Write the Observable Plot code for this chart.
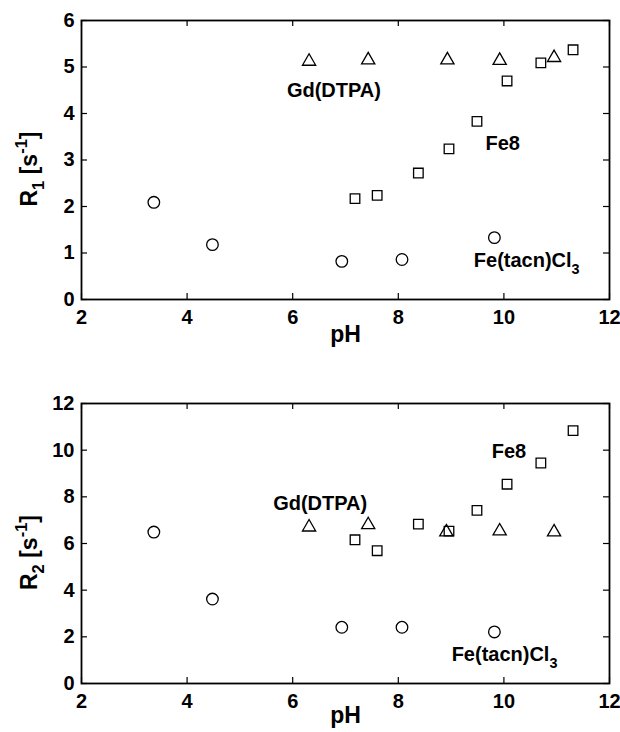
<!DOCTYPE html>
<html><head><meta charset="utf-8">
<script src="https://cdn.jsdelivr.net/npm/d3@7"></script>
<script src="https://cdn.jsdelivr.net/npm/@observablehq/plot@0.6"></script>
<style>body{margin:0;background:#fff} svg{display:block}</style>
</head><body><div id="chart"></div>
<script>
// Fe(tacn)Cl3 (circles)
const pH_circle = [3.37, 4.48, 6.93, 8.07, 9.82];
const R1_circle = [2.09, 1.18, 0.82, 0.86, 1.33];
const R2_circle = [6.49, 3.62, 2.41, 2.41, 2.21];
// Fe8 (squares)
const pH_square = [7.18, 7.60, 8.38, 8.96, 9.49, 10.06, 10.70, 11.31];
const R1_square = [2.17, 2.24, 2.72, 3.24, 3.83, 4.70, 5.09, 5.37];
const R2_square = [6.16, 5.69, 6.83, 6.53, 7.42, 8.54, 9.45, 10.84];
// Gd(DTPA) (triangles)
const pH_triangle_R1 = [6.31, 7.43, 8.93, 9.92, 10.95];
const R1_triangle = [5.12, 5.15, 5.15, 5.14, 5.20];
const pH_triangle_R2 = [6.31, 7.43, 8.91, 9.92, 10.95];
const R2_triangle = [6.70, 6.80, 6.49, 6.53, 6.49];
// ticks
const xTicks = [2, 4, 6, 8, 10, 12];
const yTicks1 = [0, 1, 2, 3, 4, 5, 6];
const yTicks2 = [0, 2, 4, 6, 8, 10, 12];
// annotations
const labelNames = ["Gd(DTPA)", "Fe8", "Fe(tacn)Cl_{3}"];
const label1X = [5.89, 9.65, 9.43];
const label1Y = [4.49, 3.35, 0.83];
const label2X = [5.63, 9.77, 9.01];
const label2Y = [7.72, 9.92, 1.23];
const xLabel = "pH";
const yLabel1 = "R_{1} [s^{-1}]";
const yLabel2 = "R_{2} [s^{-1}]";

const FONT = "'Liberation Sans', Arial, Helvetica, sans-serif";

function pts(xs, ys) { return xs.map((x, i) => ({x, y: ys[i]})); }

function richify(svg) {
  svg.querySelectorAll("text").forEach(t => {
    const s = t.textContent;
    if (!/[_^]\{/.test(s)) return;
    const fs = parseFloat(getComputedStyle(t).fontSize) || 20;
    const anchor = getComputedStyle(t).textAnchor;
    const parts = s.split(/([_^]\{[^}]*\})/).filter(p => p !== "");
    t.textContent = "";
    let shift = 0;
    for (const p of parts) {
      const ts = document.createElementNS("http://www.w3.org/2000/svg", "tspan");
      const m = p.match(/^([_^])\{([^}]*)\}$/);
      let target = 0;
      if (m) {
        target = m[1] === "_" ? 0.32 * fs : -0.45 * fs;
        ts.setAttribute("font-size", (0.72 * fs) + "px");
        ts.textContent = m[2];
      } else {
        ts.textContent = p;
      }
      if (target !== shift) { ts.setAttribute("dy", target - shift); shift = target; }
      t.appendChild(ts);
    }
    if (anchor === "middle") {
      const len = t.getComputedTextLength();
      const x0 = parseFloat(t.getAttribute("x")) || 0;
      t.setAttribute("text-anchor", "start");
      t.style.textAnchor = "start";
      t.setAttribute("x", x0 - len / 2);
    }
  });
}

function panel({height, marginTop, marginBottom, yDomain, yTicks, circles, squares, triangles, lx, ly, ylab, xlabDy}) {
  const W = 620, mL = 81, mR = 11;
  const H = height - marginTop - marginBottom;
  const tl = 6;
  return Plot.plot({
    width: W, height, marginTop, marginBottom, marginLeft: mL, marginRight: mR,
    style: {fontFamily: FONT, fontSize: "20px", fontWeight: "bold", color: "#000", background: "#fff", overflow: "visible"},
    x: {domain: [2, 12]},
    y: {domain: yDomain},
    marks: [
      Plot.axisX(xTicks, {tickSize: 0, tickPadding: 10, label: null, fontSize: 20, fontWeight: "bold"}),
      Plot.axisY(yTicks, {tickSize: 0, tickPadding: 7, label: null, fontSize: 20, fontWeight: "bold"}),
      Plot.tickX(xTicks, {x: d => d, insetTop: H - tl, stroke: "#000", strokeWidth: 1.2}),
      Plot.tickX(xTicks, {x: d => d, insetBottom: H - tl, stroke: "#000", strokeWidth: 1.2}),
      Plot.tickY(yTicks, {y: d => d, insetRight: W - mL - mR - tl, stroke: "#000", strokeWidth: 1.2}),
      Plot.tickY(yTicks, {y: d => d, insetLeft: W - mL - mR - tl, stroke: "#000", strokeWidth: 1.2}),
      Plot.frame({stroke: "#000", strokeWidth: 1.8}),
      Plot.dot(circles, {x: "x", y: "y", symbol: "circle", r: 5.8, stroke: "#000", strokeWidth: 1.3, fill: "none"}),
      Plot.dot(squares, {x: "x", y: "y", symbol: "square", r: 5.4, stroke: "#000", strokeWidth: 1.3, fill: "none"}),
      Plot.dot(triangles, {x: "x", y: "y", symbol: "triangle", r: 4.9, stroke: "#000", strokeWidth: 1.3, fill: "none"}),
      Plot.text(labelNames, {x: (d, i) => lx[i], y: (d, i) => ly[i], text: d => d, textAnchor: "start", fontSize: 20, fontWeight: "bold", fill: "#000"}),
      Plot.text([xLabel], {frameAnchor: "bottom", lineAnchor: "middle", textAnchor: "middle", text: d => d, dy: xlabDy, fontSize: 23, fontWeight: "bold", fill: "#000"}),
      Plot.text([ylab], {frameAnchor: "left", lineAnchor: "middle", textAnchor: "middle", text: d => d, dx: -52, dy: 9, rotate: -90, fontSize: 23, fontWeight: "bold", fill: "#000"})
    ]
  });
}

const chart = document.getElementById("chart");
const s1 = panel({
  height: 350, marginTop: 20, marginBottom: 51, yDomain: [0, 6], yTicks: yTicks1,
  circles: pts(pH_circle, R1_circle), squares: pts(pH_square, R1_square), triangles: pts(pH_triangle_R1, R1_triangle),
  lx: label1X, ly: label1Y, ylab: yLabel1, xlabDy: 35
});
chart.appendChild(s1);
richify(s1);
const s2 = panel({
  height: 382, marginTop: 53, marginBottom: 49, yDomain: [0, 12], yTicks: yTicks2,
  circles: pts(pH_circle, R2_circle), squares: pts(pH_square, R2_square), triangles: pts(pH_triangle_R2, R2_triangle),
  lx: label2X, ly: label2Y, ylab: yLabel2, xlabDy: 32
});
chart.appendChild(s2);
richify(s2);
</script>
</body></html>
